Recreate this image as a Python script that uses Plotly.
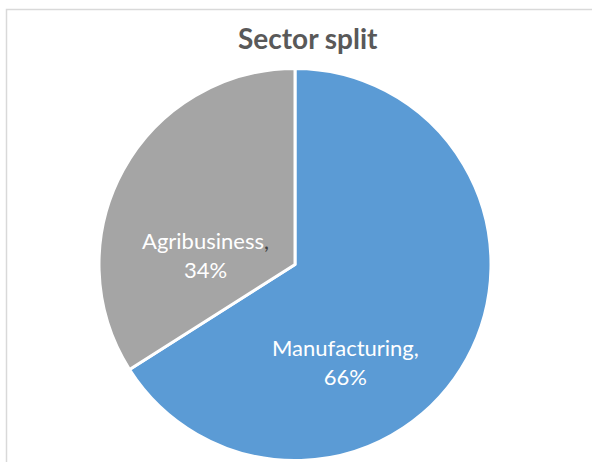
import plotly.graph_objects as go

# Sector shares (percent)
sectors = ["Manufacturing", "Agribusiness"]
shares = [66, 34]
colors = ["#5B9BD5", "#A5A5A5"]

W, H = 592, 462


def px(x):
    return x / W


def py(y):
    return 1 - y / H


fig = go.Figure()

fig.add_trace(go.Pie(
    labels=sectors,
    values=shares,
    sort=False,
    direction="clockwise",
    rotation=0,
    marker=dict(colors=colors, line=dict(color="white", width=3)),
    textinfo="none",
    hoverinfo="label+percent",
    showlegend=False,
    domain=dict(x=[px(295 - 196), px(295 + 196)], y=[py(264.5 + 196), py(264.5 - 196)]),
))

# Data labels: "Category, value%"
label_pos = {"Manufacturing": (345, 362), "Agribusiness": (205, 255)}
comma_color = {"Manufacturing": "white", "Agribusiness": "#404040"}
annotations = []
for name, val in zip(sectors, shares):
    x, y = label_pos[name]
    text = (f"{name}<span style='color:{comma_color[name]}'>,</span>"
            f"<br>{val}%")
    annotations.append(dict(
        x=px(x), y=py(y), xref="paper", yref="paper",
        text=text, showarrow=False, xanchor="center", yanchor="middle",
        font=dict(family="Lato", size=22, color="white"),
    ))

# Chart title
annotations.append(dict(
    x=px(307.5), y=py(38), xref="paper", yref="paper",
    text="<b>Sector split</b>", showarrow=False,
    xanchor="center", yanchor="middle",
    font=dict(family="Lato", size=28, color="#595959"),
))

fig.update_layout(
    width=W, height=H,
    margin=dict(l=0, r=0, t=0, b=0),
    paper_bgcolor="white",
    plot_bgcolor="white",
    annotations=annotations,
    shapes=[dict(
        type="rect", xref="paper", yref="paper",
        x0=px(6.5), y0=-0.1, x1=1.1, y1=py(9.5),
        line=dict(color="#D9D9D9", width=1.5),
        fillcolor="rgba(0,0,0,0)", layer="below",
    )],
)

fig.write_html("out.html")
